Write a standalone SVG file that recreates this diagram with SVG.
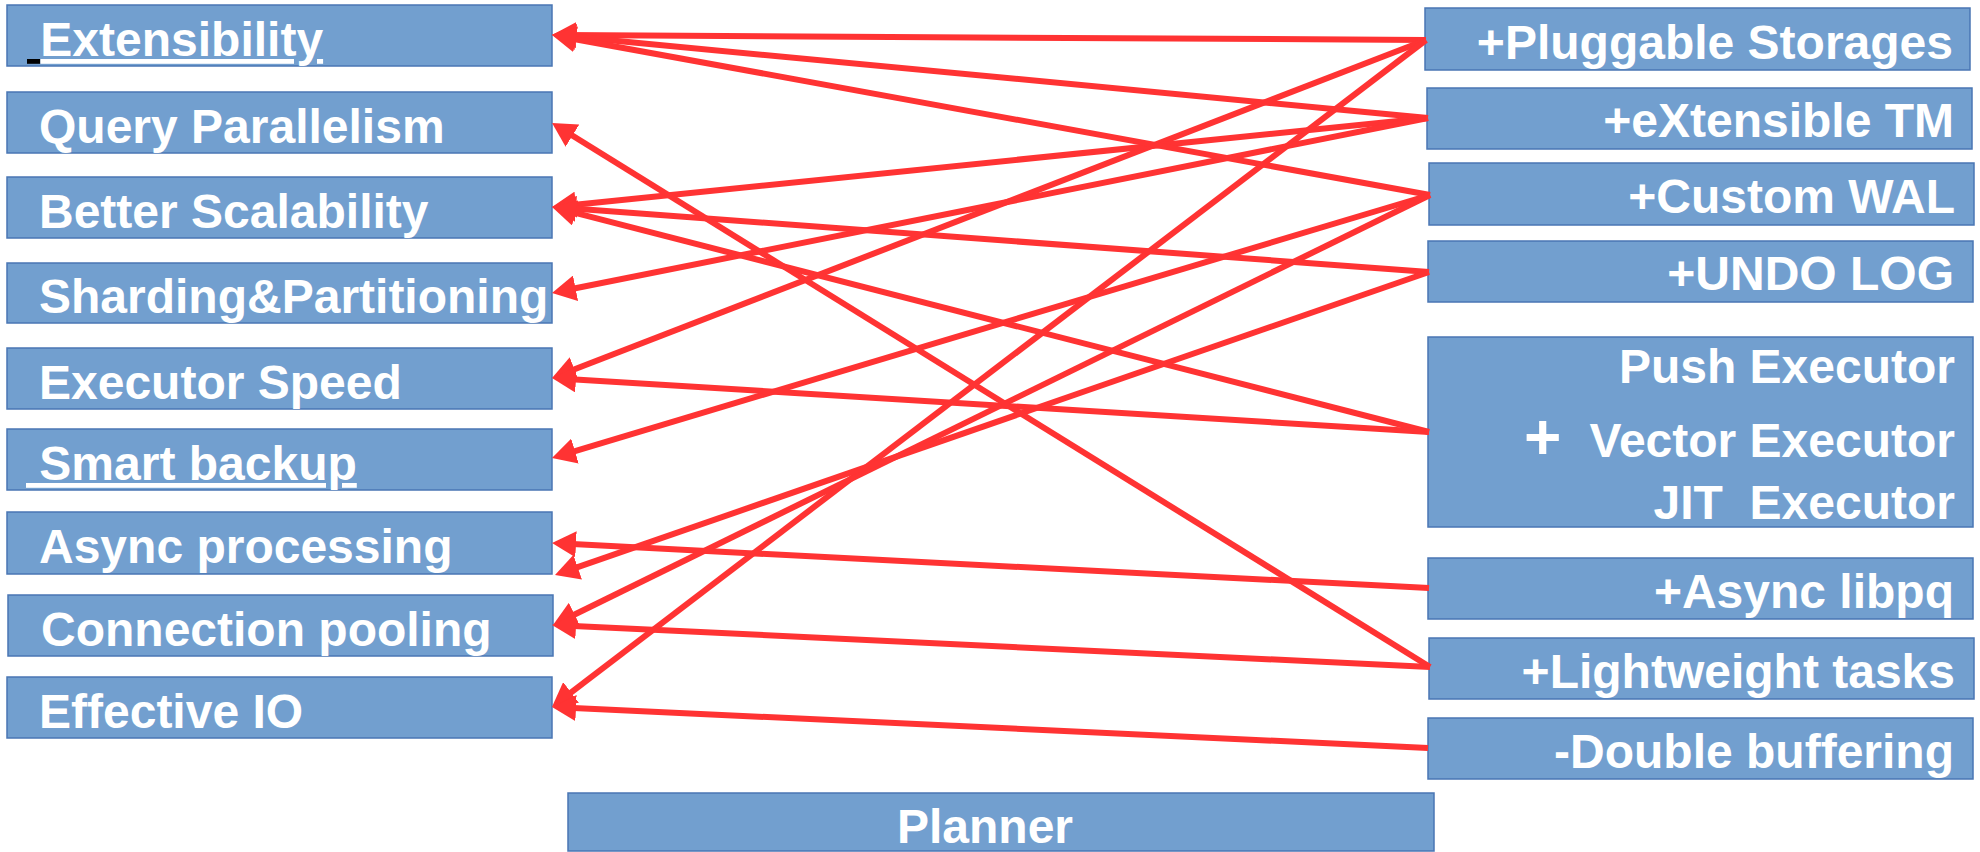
<svg xmlns="http://www.w3.org/2000/svg" width="1980" height="852" viewBox="0 0 1980 852">
<defs>
<style>
.box{fill:#729fcf;stroke:#4a76b4;stroke-width:1.5}
.t{font-family:"Liberation Sans",Arial,sans-serif;font-weight:bold;font-size:48px;fill:#fff}
.r{text-anchor:end}
.c{fill:none;stroke:#ff3333;stroke-width:6;marker-end:url(#ah)}
</style>
<marker id="ah" markerUnits="userSpaceOnUse" viewBox="0 0 24 26" markerWidth="24" markerHeight="26" refX="13" refY="13" orient="auto">
<path d="M0,0 L24,13 L0,26 z" fill="#ff3333"/>
</marker>
</defs>
<rect width="1980" height="852" fill="#fff"/>

<g id="n-extensibility"><rect class="box" x="7" y="5" width="545" height="61"/><text class="t" x="27" y="56" xml:space="preserve"><tspan fill="#000" text-decoration="underline"> </tspan><tspan text-decoration="underline">Extensibility</tspan></text></g>
<g id="n-query"><rect class="box" x="7" y="92" width="545" height="61"/><text class="t" x="39" y="143">Query Parallelism</text></g>
<g id="n-scalability"><rect class="box" x="7" y="177" width="545" height="61"/><text class="t" x="39" y="228">Better Scalability</text></g>
<g id="n-sharding"><rect class="box" x="7" y="263" width="545" height="60"/><text class="t" x="39" y="313">Sharding&amp;Partitioning</text></g>
<g id="n-executor-speed"><rect class="box" x="7" y="348" width="545" height="61"/><text class="t" x="39" y="399">Executor Speed</text></g>
<g id="n-backup"><rect class="box" x="7" y="429" width="545" height="61"/><text class="t" x="26" y="480" xml:space="preserve" text-decoration="underline"> Smart backup</text></g>
<g id="n-async"><rect class="box" x="7" y="512" width="545" height="62"/><text class="t" x="39" y="563">Async processing</text></g>
<g id="n-pooling"><rect class="box" x="8" y="595" width="545" height="61"/><text class="t" x="41" y="646">Connection pooling</text></g>
<g id="n-io"><rect class="box" x="7" y="677" width="545" height="61"/><text class="t" x="39" y="728">Effective IO</text></g>

<g id="n-pluggable"><rect class="box" x="1425" y="8" width="545" height="62"/><text class="t r" x="1953" y="59">+Pluggable Storages</text></g>
<g id="n-tm"><rect class="box" x="1427" y="88" width="545" height="61"/><text class="t r" x="1954" y="137">+eXtensible TM</text></g>
<g id="n-wal"><rect class="box" x="1429" y="163" width="545" height="62"/><text class="t r" x="1955" y="213">+Custom WAL</text></g>
<g id="n-undo"><rect class="box" x="1428" y="241" width="545" height="61"/><text class="t r" x="1954" y="290">+UNDO LOG</text></g>
<g id="n-executors"><rect class="box" x="1428" y="337" width="545" height="190"/>
<text class="t r" x="1955" y="383">Push Executor</text>
<text class="t" x="1524" y="459" style="font-size:64px">+</text>
<text class="t r" x="1955" y="457">Vector Executor</text>
<text class="t r" x="1955" y="519" xml:space="preserve">JIT  Executor</text></g>
<g id="n-libpq"><rect class="box" x="1428" y="558" width="545" height="61"/><text class="t r" x="1954" y="608">+Async libpq</text></g>
<g id="n-tasks"><rect class="box" x="1429" y="638" width="545" height="61"/><text class="t r" x="1955" y="688">+Lightweight tasks</text></g>
<g id="n-buffering"><rect class="box" x="1428" y="718" width="545" height="61"/><text class="t r" x="1954" y="768">-Double buffering</text></g>
<g id="n-planner"><rect class="box" x="568" y="793" width="866" height="58"/><text class="t" x="985" y="843" text-anchor="middle">Planner</text></g>

<g id="connectors">
<path class="c" d="M1426,40 L563,35.06"/>
<path class="c" d="M1426,40 L562.3,374"/>
<path class="c" d="M1426,40 L560.7,700.3"/>
<path class="c" d="M1428,118 L562.9,35.8"/>
<path class="c" d="M1428,118 L562.9,205.9"/>
<path class="c" d="M1428,118 L562.8,290.8"/>
<path class="c" d="M1430,195 L562.8,37"/>
<path class="c" d="M1430,195 L562.5,454.8"/>
<path class="c" d="M1430,195 L562.9,620.2"/>
<path class="c" d="M1429,272 L563,207.8"/>
<path class="c" d="M1429,272 L565.4,571.4"/>
<path class="c" d="M1429,432 L562.7,209.7"/>
<path class="c" d="M1429,432 L563,378.7"/>
<path class="c" d="M1429,588 L563,543.6"/>
<path class="c" d="M1430,667 L561.4,128.8"/>
<path class="c" d="M1430,667 L563,625.5"/>
<path class="c" d="M1428,748 L563,707.5"/>
</g>
</svg>
